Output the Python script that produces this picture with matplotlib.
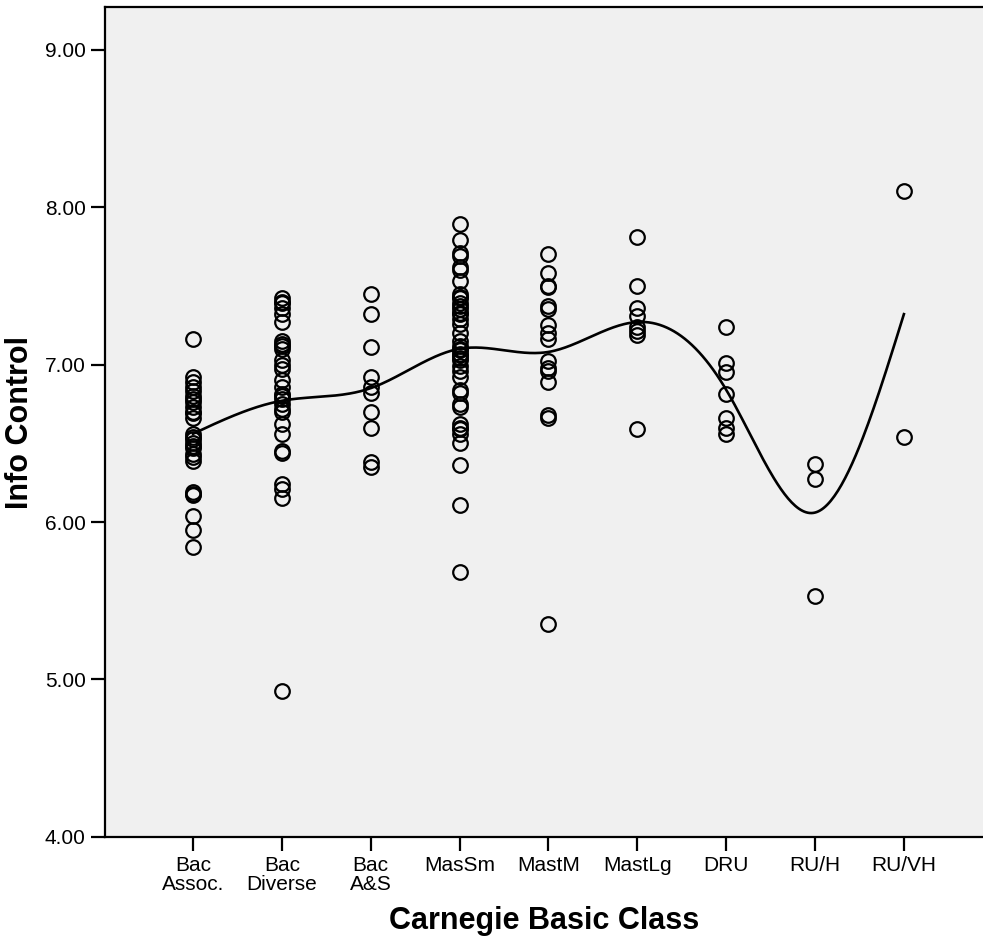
import matplotlib
matplotlib.use("Agg")
import matplotlib.pyplot as plt
import numpy as np

plt.rcParams["font.family"] = ["Liberation Sans", "DejaVu Sans"]

# ── data ──────────────────────────────────────────────────────────────────────
categories = ["Bac\nAssoc.", "Bac\nDiverse", "Bac\nA&S", "MasSm", "MastM",
              "MastLg", "DRU", "RU/H", "RU/VH"]

bac_assoc = [7.16, 6.92, 6.89, 6.86, 6.83, 6.80, 6.78, 6.76, 6.73, 6.70, 6.69,
             6.66, 6.56, 6.54, 6.53, 6.50, 6.48, 6.47, 6.43, 6.41, 6.39,
             6.19, 6.18, 6.17, 6.04, 5.95, 5.84]
bac_diverse = [7.42, 7.40, 7.39, 7.36, 7.32, 7.27, 7.15, 7.13, 7.12, 7.10,
               7.03, 7.00, 6.97, 6.90, 6.86, 6.81, 6.80, 6.78, 6.75, 6.72,
               6.70, 6.62, 6.56, 6.45, 6.44, 6.24, 6.21, 6.15, 4.93]
bac_as = [7.45, 7.32, 7.11, 6.92, 6.86, 6.82, 6.70, 6.60, 6.38, 6.35]
mas_sm = [7.89, 7.79, 7.71, 7.69, 7.62, 7.60, 7.53, 7.45, 7.43, 7.42, 7.39,
          7.37, 7.35, 7.33, 7.32, 7.29, 7.26, 7.20, 7.15, 7.12, 7.10, 7.09,
          7.07, 7.06, 7.04, 7.03, 6.99, 6.96, 6.92, 6.84, 6.82, 6.75, 6.73,
          6.62, 6.60, 6.59, 6.56, 6.50, 6.36, 6.11, 5.68]
mast_m = [7.70, 7.58, 7.50, 7.49, 7.37, 7.35, 7.25, 7.20, 7.16, 7.02, 6.98,
          6.96, 6.89, 6.68, 6.66, 5.35]
mast_lg = [7.81, 7.50, 7.36, 7.31, 7.24, 7.21, 7.19, 6.59]
dru = [7.24, 7.01, 6.95, 6.81, 6.66, 6.60, 6.56]
ru_h = [6.37, 6.27, 5.53]
ru_vh = [8.10, 6.54]

groups = [bac_assoc, bac_diverse, bac_as, mas_sm, mast_m, mast_lg, dru, ru_h, ru_vh]

# interpolation line nodes (group means as drawn)
line_nodes = [6.56, 6.77, 6.85, 7.10, 7.08, 7.27, 6.84, 6.06, 7.32]

y_ticks = [4.0, 5.0, 6.0, 7.0, 8.0, 9.0]


def natural_spline(xk, yk, xs):
    xk = np.asarray(xk, float)
    yk = np.asarray(yk, float)
    n = len(xk)
    h = np.diff(xk)
    A = np.zeros((n, n))
    b = np.zeros(n)
    A[0, 0] = A[-1, -1] = 1.0
    for i in range(1, n - 1):
        A[i, i - 1] = h[i - 1]
        A[i, i] = 2 * (h[i - 1] + h[i])
        A[i, i + 1] = h[i]
        b[i] = 3 * ((yk[i + 1] - yk[i]) / h[i] - (yk[i] - yk[i - 1]) / h[i - 1])
    c = np.linalg.solve(A, b)
    idx = np.clip(np.searchsorted(xk, xs) - 1, 0, n - 2)
    dx = xs - xk[idx]
    bb = (yk[idx + 1] - yk[idx]) / h[idx] - h[idx] * (2 * c[idx] + c[idx + 1]) / 3
    dd = (c[idx + 1] - c[idx]) / (3 * h[idx])
    return yk[idx] + bb * dx + c[idx] * dx ** 2 + dd * dx ** 3


fig = plt.figure(figsize=(9.83, 9.42), dpi=100)
ax = fig.add_axes([0.1068, 0.1115, 0.8932, 0.881])
ax.set_facecolor("#f0f0f0")

pos = np.arange(1, len(categories) + 1)
for p, vals in zip(pos, groups):
    ax.plot(np.full(len(vals), p), vals, linestyle="none", marker="o",
            markersize=10.5, markerfacecolor="none", markeredgecolor="black",
            markeredgewidth=1.6, zorder=3)

xs = np.linspace(pos[0], pos[-1], 400)
ax.plot(xs, natural_spline(pos, line_nodes, xs), color="black", lw=1.9, zorder=2)

ax.set_xlim(0.01, 9.89)
ax.set_ylim(4.0, 9.27)
ax.set_xticks(pos)
ax.set_xticklabels(categories, linespacing=0.95)
ax.set_yticks(y_ticks)
ax.set_yticklabels([f"{v:.2f}" for v in y_ticks])

ax.tick_params(axis="both", direction="out", length=10, width=1.6,
               labelsize=15, pad=4, colors="black")
for side in ["left", "bottom", "top"]:
    ax.spines[side].set_linewidth(1.6)
ax.spines["right"].set_visible(False)

ax.set_xlabel("Carnegie Basic Class", fontsize=22, fontweight="bold", labelpad=9)
ax.set_ylabel("Info Control", fontsize=22, fontweight="bold", labelpad=7)

fig.savefig("out.png", dpi=100)
